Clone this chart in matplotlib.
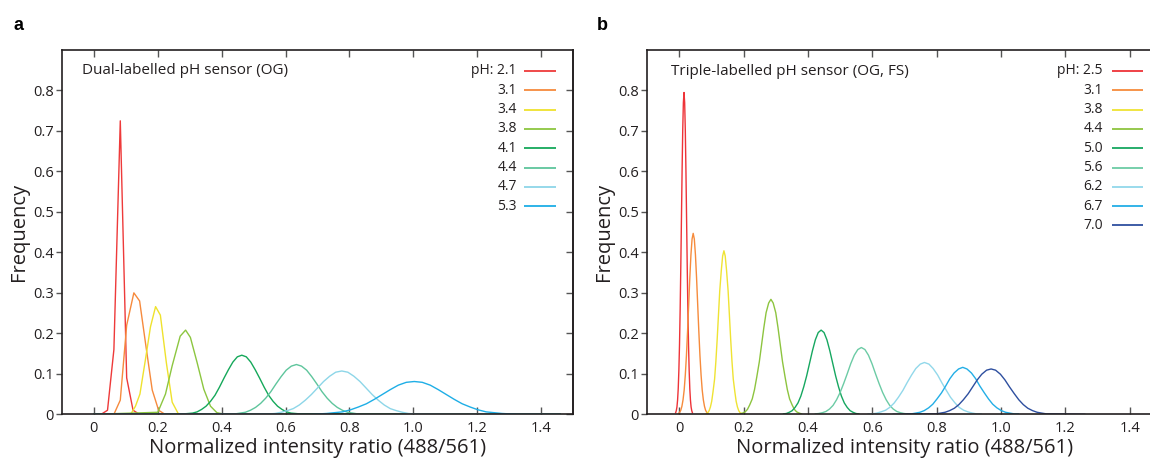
import matplotlib
matplotlib.use("Agg")
import matplotlib.pyplot as plt

# ---------------- data ----------------
xtick_vals = [0, 0.2, 0.4, 0.6, 0.8, 1.0, 1.2, 1.4]
xtick_labels = ["0", "0.2", "0.4", "0.6", "0.8", "1.0", "1.2", "1.4"]
ytick_vals = [0, 0.1, 0.2, 0.3, 0.4, 0.5, 0.6, 0.7, 0.8]
ytick_labels = ["0", "0.1", "0.2", "0.3", "0.4", "0.5", "0.6", "0.7", "0.8"]

title_a = "Dual-labelled pH sensor (OG)"
title_b = "Triple-labelled pH sensor (OG, FS)"
xlabel = "Normalized intensity ratio (488/561)"
ylabel = "Frequency"

# Panel a (dual-labelled)
ph_a = ["2.1", "3.1", "3.4", "3.8", "4.1", "4.4", "4.7", "5.3"]
colors_a = ["#ee3a3a", "#f68a3d", "#efe22d", "#8cc640", "#15a85a", "#5ec59c", "#8dd6e8", "#1eaee6"]

a21_x = [0.0, 0.0225, 0.0425, 0.0625, 0.0825, 0.1025, 0.1225, 0.1425, 1.46]
a21_y = [0, 0, 0.01, 0.16, 0.725, 0.09, 0.01, 0, 0]

a31_x = [0.0, 0.0625, 0.0825, 0.1025, 0.125, 0.143, 0.1625, 0.1825, 0.2025, 0.2225, 1.46]
a31_y = [0, 0, 0.035, 0.22, 0.30, 0.28, 0.17, 0.06, 0.01, 0, 0]

a34_x = [0.0, 0.115, 0.13, 0.144, 0.161, 0.177, 0.193, 0.208, 0.227, 0.245, 0.265, 1.46]
a34_y = [0, 0, 0.02, 0.05, 0.134, 0.216, 0.266, 0.245, 0.126, 0.03, 0, 0]

a38_x = [0.0, 0.2, 0.224, 0.245, 0.27, 0.287, 0.302, 0.323, 0.344, 0.365, 0.385, 0.41, 1.46]
a38_y = [0, 0.005, 0.05, 0.12, 0.193, 0.208, 0.19, 0.128, 0.062, 0.02, 0.004, 0, 0]

a41_x = [0.0, 0.281, 0.295, 0.309, 0.323, 0.337, 0.351, 0.365, 0.379, 0.393, 0.407, 0.421, 0.435, 0.449,
         0.463, 0.477, 0.491, 0.505, 0.519, 0.533, 0.547, 0.561, 0.575, 0.589, 0.603, 0.617, 0.631, 0.645, 1.46]
a41_y = [0, 0.001, 0.002, 0.003, 0.006, 0.012, 0.020, 0.032, 0.047, 0.067, 0.089, 0.110, 0.129, 0.142,
         0.146, 0.142, 0.129, 0.110, 0.089, 0.067, 0.047, 0.032, 0.020, 0.012, 0.006, 0.003, 0.002, 0.001, 0]

a44_x = [0.0, 0.426, 0.442, 0.458, 0.474, 0.490, 0.506, 0.522, 0.538, 0.554, 0.570, 0.586, 0.602, 0.618,
         0.634, 0.650, 0.666, 0.682, 0.698, 0.714, 0.730, 0.746, 0.762, 0.778, 0.794, 0.810, 0.826, 0.842, 1.46]
a44_y = [0, 0.001, 0.001, 0.003, 0.005, 0.010, 0.017, 0.027, 0.040, 0.056, 0.075, 0.093, 0.109, 0.119,
         0.123, 0.119, 0.109, 0.093, 0.075, 0.056, 0.040, 0.027, 0.017, 0.010, 0.005, 0.003, 0.001, 0.001, 0]

a47_x = [0.0, 0.529, 0.548, 0.567, 0.586, 0.605, 0.624, 0.643, 0.662, 0.681, 0.700, 0.719, 0.738, 0.757,
         0.776, 0.795, 0.814, 0.833, 0.852, 0.871, 0.890, 0.909, 0.928, 0.947, 0.966, 0.985, 1.004, 1.023, 1.46]
a47_y = [0, 0.001, 0.001, 0.002, 0.005, 0.009, 0.014, 0.023, 0.035, 0.049, 0.065, 0.081, 0.094, 0.104,
         0.107, 0.104, 0.094, 0.081, 0.065, 0.049, 0.035, 0.023, 0.014, 0.009, 0.005, 0.002, 0.001, 0.001, 0]

a53_x = [0.0, 0.678, 0.703, 0.728, 0.753, 0.778, 0.803, 0.828, 0.853, 0.878, 0.903, 0.928, 0.953, 0.978,
         1.003, 1.028, 1.053, 1.078, 1.103, 1.128, 1.153, 1.178, 1.203, 1.228, 1.253, 1.278, 1.303, 1.328, 1.46]
a53_y = [0, 0.000, 0.001, 0.002, 0.004, 0.006, 0.011, 0.018, 0.026, 0.037, 0.049, 0.061, 0.072, 0.079,
         0.081, 0.079, 0.072, 0.061, 0.049, 0.037, 0.026, 0.018, 0.011, 0.006, 0.004, 0.002, 0.001, 0.000, 0]

# Panel b (triple-labelled)
ph_b = ["2.5", "3.1", "3.8", "4.4", "5.0", "5.6", "6.2", "6.7", "7.0"]
colors_b = ["#ee3338", "#f68b3c", "#efe333", "#8dc43f", "#16a760", "#6ccba5", "#92d8ea", "#23aee6", "#2e4f9f"]

b25_x = [-0.011, -0.009, -0.007, -0.005, -0.003, -0.001, 0.001, 0.003, 0.005, 0.007, 0.009, 0.011, 0.013,
         0.015, 0.017, 0.019, 0.021, 0.023, 0.025, 0.027, 0.029, 0.031, 0.033, 0.035, 0.037, 0.039, 0.041]
b25_y = [0.004, 0.009, 0.018, 0.035, 0.063, 0.108, 0.172, 0.258, 0.364, 0.482, 0.600, 0.702, 0.770,
         0.795, 0.770, 0.702, 0.600, 0.482, 0.364, 0.258, 0.172, 0.108, 0.063, 0.035, 0.018, 0.009, 0.004]

b31_x = [-0.002, 0.0015, 0.005, 0.0085, 0.012, 0.0155, 0.019, 0.0225, 0.026, 0.0295, 0.033, 0.0365, 0.040,
         0.0435, 0.047, 0.0505, 0.054, 0.0575, 0.061, 0.0645, 0.068, 0.0715, 0.075, 0.0785, 0.082, 0.0855, 0.089]
b31_y = [0.002, 0.005, 0.010, 0.020, 0.036, 0.060, 0.097, 0.145, 0.205, 0.271, 0.337, 0.394, 0.433,
         0.447, 0.433, 0.394, 0.337, 0.271, 0.205, 0.145, 0.097, 0.060, 0.036, 0.020, 0.010, 0.005, 0.002]

b38_x = [0.084, 0.089, 0.093, 0.097, 0.101, 0.105, 0.110, 0.114, 0.118, 0.122, 0.126, 0.131, 0.135,
         0.139, 0.143, 0.147, 0.152, 0.156, 0.160, 0.164, 0.168, 0.173, 0.177, 0.181, 0.185, 0.189, 0.194]
b38_y = [0.002, 0.004, 0.009, 0.018, 0.032, 0.055, 0.087, 0.131, 0.185, 0.245, 0.305, 0.357, 0.391,
         0.404, 0.391, 0.357, 0.305, 0.245, 0.185, 0.131, 0.087, 0.055, 0.032, 0.018, 0.009, 0.004, 0.002]

b44_x = [0.190, 0.197, 0.205, 0.212, 0.219, 0.227, 0.234, 0.241, 0.249, 0.256, 0.263, 0.270, 0.278,
         0.285, 0.292, 0.300, 0.307, 0.314, 0.321, 0.329, 0.336, 0.343, 0.351, 0.358, 0.365, 0.373, 0.380]
b44_y = [0.001, 0.003, 0.006, 0.012, 0.023, 0.038, 0.061, 0.092, 0.130, 0.172, 0.214, 0.251, 0.275,
         0.284, 0.275, 0.251, 0.214, 0.172, 0.130, 0.092, 0.061, 0.038, 0.023, 0.012, 0.006, 0.003, 0.001]

b50_x = [0.324, 0.333, 0.342, 0.351, 0.360, 0.369, 0.378, 0.387, 0.396, 0.405, 0.414, 0.423, 0.432,
         0.441, 0.450, 0.459, 0.468, 0.477, 0.486, 0.495, 0.504, 0.513, 0.522, 0.531, 0.540, 0.549, 0.558]
b50_y = [0.001, 0.002, 0.005, 0.009, 0.017, 0.028, 0.045, 0.068, 0.095, 0.126, 0.157, 0.184, 0.202,
         0.208, 0.202, 0.184, 0.157, 0.126, 0.095, 0.068, 0.045, 0.028, 0.017, 0.009, 0.005, 0.002, 0.001]

b56_x = [0.423, 0.434, 0.445, 0.456, 0.467, 0.478, 0.489, 0.500, 0.511, 0.522, 0.533, 0.544, 0.555,
         0.566, 0.577, 0.588, 0.599, 0.610, 0.621, 0.632, 0.643, 0.654, 0.665, 0.676, 0.687, 0.698, 0.709]
b56_y = [0.001, 0.002, 0.004, 0.007, 0.013, 0.022, 0.036, 0.054, 0.076, 0.100, 0.125, 0.146, 0.160,
         0.165, 0.160, 0.146, 0.125, 0.100, 0.076, 0.054, 0.036, 0.022, 0.013, 0.007, 0.004, 0.002, 0.001]

b62_x = [0.587, 0.600, 0.614, 0.627, 0.641, 0.654, 0.668, 0.681, 0.695, 0.708, 0.722, 0.735, 0.749,
         0.762, 0.776, 0.789, 0.803, 0.816, 0.830, 0.843, 0.857, 0.870, 0.884, 0.897, 0.911, 0.924, 0.938]
b62_y = [0.001, 0.001, 0.003, 0.006, 0.010, 0.017, 0.028, 0.042, 0.059, 0.078, 0.097, 0.113, 0.124,
         0.128, 0.124, 0.113, 0.097, 0.078, 0.059, 0.042, 0.028, 0.017, 0.010, 0.006, 0.003, 0.001, 0.001]

b67_x = [0.708, 0.721, 0.735, 0.748, 0.761, 0.775, 0.788, 0.801, 0.815, 0.828, 0.841, 0.854, 0.868,
         0.881, 0.894, 0.908, 0.921, 0.934, 0.948, 0.961, 0.974, 0.987, 1.001, 1.014, 1.027, 1.041, 1.054]
b67_y = [0.001, 0.001, 0.003, 0.005, 0.009, 0.016, 0.025, 0.038, 0.053, 0.070, 0.088, 0.102, 0.112,
         0.116, 0.112, 0.102, 0.088, 0.070, 0.053, 0.038, 0.025, 0.016, 0.009, 0.005, 0.003, 0.001, 0.001]

b70_x = [0.665, 0.783, 0.797, 0.812, 0.826, 0.840, 0.855, 0.869, 0.883, 0.898, 0.912, 0.926, 0.940, 0.955,
         0.969, 0.983, 0.998, 1.012, 1.026, 1.041, 1.055, 1.069, 1.083, 1.098, 1.112, 1.126, 1.141, 1.155, 1.26]
b70_y = [0, 0.001, 0.001, 0.003, 0.005, 0.009, 0.015, 0.024, 0.036, 0.051, 0.068, 0.085, 0.099, 0.109,
         0.112, 0.109, 0.099, 0.085, 0.068, 0.051, 0.036, 0.024, 0.015, 0.009, 0.005, 0.003, 0.001, 0.001, 0]

series_a = [(a21_x, a21_y), (a31_x, a31_y), (a34_x, a34_y), (a38_x, a38_y),
            (a41_x, a41_y), (a44_x, a44_y), (a47_x, a47_y), (a53_x, a53_y)]
series_b = [(b25_x, b25_y), (b31_x, b31_y), (b38_x, b38_y), (b44_x, b44_y), (b50_x, b50_y),
            (b56_x, b56_y), (b62_x, b62_y), (b67_x, b67_y), (b70_x, b70_y)]

# ---------------- figure ----------------
plt.rcParams["font.family"] = ["Open Sans", "DejaVu Sans"]
TXT = "#231f20"
W, H = 1150, 459
fig = plt.figure(figsize=(W / 100, H / 100), dpi=100)

ax_a = fig.add_axes([62 / W, (H - 414.3) / H, 511 / W, 364.3 / H])
ax_b = fig.add_axes([647 / W, (H - 414.3) / H, 515 / W, 364.3 / H])


def style(ax):
    ax.set_xlim(-0.1, 1.5)
    ax.set_ylim(0, 0.9)
    ax.set_xticks(xtick_vals)
    ax.set_xticklabels(xtick_labels)
    ax.set_yticks(ytick_vals)
    ax.set_yticklabels(ytick_labels)
    ax.tick_params(axis="x", direction="in", top=True, length=5, width=1.0,
                   color="#555555", labelsize=10.5, labelcolor=TXT, pad=5)
    ax.tick_params(axis="y", direction="out", right=False, length=4, width=1.0,
                   color="#555555", labelsize=10.5, labelcolor=TXT, pad=2)
    for s in ax.spines.values():
        s.set_color(TXT)
        s.set_linewidth(1.2)
    sec = ax.secondary_yaxis("right")
    sec.set_yticks(ytick_vals)
    sec.tick_params(direction="in", length=5, width=1.0, color="#555555", labelright=False)
    sec.spines["right"].set_color(TXT)
    sec.spines["right"].set_linewidth(1.2)
    ax.set_xlabel(xlabel, fontsize=14.5, color=TXT, labelpad=1)
    ax.set_ylabel(ylabel, fontsize=14.5, color=TXT, labelpad=3)


def legend(ax, labels, colors, xt, xl1, xl2, y0, dy):
    for i, (lab, col) in enumerate(zip(labels, colors)):
        y = y0 - i * dy
        txt = ("pH: " + lab) if i == 0 else lab
        ax.text(xt, y, txt, transform=ax.transAxes, ha="right", va="center",
                fontsize=10, color=TXT)
        ax.plot([xl1, xl2], [y, y], transform=ax.transAxes, color=col, lw=1.3,
                solid_capstyle="butt", clip_on=False)


for (xs, ys), c in zip(series_a, colors_a):
    ax_a.plot(xs, ys, color=c, lw=1.0)
for (xs, ys), c in zip(series_b, colors_b):
    ax_b.plot(xs, ys, color=c, lw=1.0)

style(ax_a)
style(ax_b)

ax_a.text(0.039, 0.945, title_a, transform=ax_a.transAxes, ha="left", va="center",
          fontsize=11, color=TXT)
ax_b.text(0.046, 0.94, title_b, transform=ax_b.transAxes, ha="left", va="center",
          fontsize=11, color=TXT)

legend(ax_a, ph_a, colors_a, 0.890, 0.905, 0.967, 0.9424, 0.053)
legend(ax_b, ph_b, colors_b, 0.885, 0.902, 0.964, 0.9424, 0.053)

fig.text(13 / W, 1 - 26 / H, "a", fontsize=13, fontweight="bold", family="Liberation Sans",
         ha="left", va="center", color="black")
fig.text(597 / W, 1 - 26 / H, "b", fontsize=13, fontweight="bold", family="Liberation Sans",
         ha="left", va="center", color="black")

fig.savefig("out.png", dpi=100)
